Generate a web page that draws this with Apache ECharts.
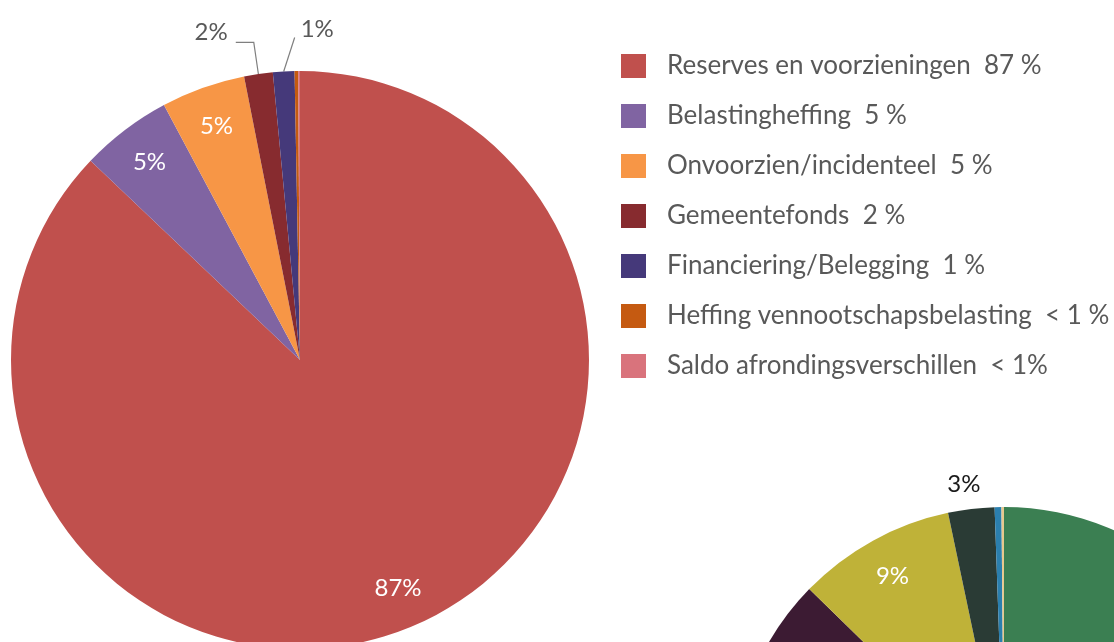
<!DOCTYPE html>
<html>
<head>
<meta charset="utf-8">
<script src="https://cdn.jsdelivr.net/npm/echarts@6/dist/echarts.min.js"></script>
<style>
  html, body { margin: 0; padding: 0; background: #fff; }
  #chart { width: 1114px; height: 642px; }
</style>
</head>
<body>
<div id="chart"></div>
<script>
// main pie (percent of total)
var mainNames = ['Reserves en voorzieningen', 'Belastingheffing', 'Onvoorzien/incidenteel',
                 'Gemeentefonds', 'Financiering/Belegging', 'Heffing vennootschapsbelasting',
                 'Saldo afrondingsverschillen'];
var mainValues = [87.1, 5.1, 4.7, 1.6, 1.2, 0.2, 0.1];
var mainShares = ['87 %', '5 %', '5 %', '2 %', '1 %', '< 1 %', '< 1%'];
var mainColors = ['#c0504d', '#8064a2', '#f79646', '#872b2f', '#45397a', '#c55a11', '#d9737c'];

// second pie, only its top part is in view
var sideNames = ['Groen', 'Paars', 'Geel', 'Donkergroen', 'Blauw', 'Beige'];
var sideValues = [72.1, 15.2, 9.4, 2.75, 0.4, 0.15];
var sideColors = ['#3b7f52', '#3c1b33', '#bfb238', '#2a3b35', '#2b7fae', '#e8c88e'];

var FONT = 'Lato';
var R1 = 289, R2 = 272;

function pct(p) { return Math.round(p.percent) + '%'; }

function makeData(names, values, colors, labelFn) {
    var out = [];
    for (var i = 0; i < names.length; i++) {
        out.push({
            name: names[i],
            value: values[i],
            itemStyle: { color: colors[i] },
            label: labelFn(values[i]),
            labelLine: { show: labelFn(values[i]).show }
        });
    }
    return out;
}

var chartDom = document.getElementById('chart');
var myChart = echarts.init(chartDom);

var option = {
    animation: false,
    backgroundColor: '#fff',
    legend: {
        orient: 'vertical',
        left: 616,
        top: 48,
        itemWidth: 25,
        itemHeight: 24,
        itemGap: 24,
        icon: 'rect',
        data: mainNames,
        selectedMode: false,
        textStyle: {
            fontFamily: FONT,
            fontSize: 26,
            lineHeight: 24,
            color: '#595959',
            padding: [0, 0, 0, 16]
        },
        formatter: function (name) {
            return name + '  ' + mainShares[mainNames.indexOf(name)];
        }
    },
    series: [
        {
            // slices + outside labels
            type: 'pie',
            center: [300, 360],
            radius: R1,
            startAngle: 90,
            clockwise: true,
            avoidLabelOverlap: false,
            silent: true,
            data: makeData(mainNames, mainValues, mainColors, function (v) {
                return { show: v >= 1 && v < 3 };
            }),
            label: {
                position: 'outside',
                formatter: pct,
                fontFamily: FONT,
                fontSize: 24,
                color: '#595959',
                distanceToLabelLine: 6
            },
            labelLine: {
                length: 32,
                length2: 18,
                lineStyle: { color: '#7f7f7f', width: 1.2 }
            },
            labelLayout: function (params) {
                var pts = params.labelLinePoints;
                if (!pts) return;
                var p0 = pts[0];
                if (mainNames[params.dataIndex] === 'Financiering/Belegging') {
                    // the 1% label sits to the right of its slice in the original
                    var end = [p0[0] + 11, pts[1][1] - 2];
                    return {
                        x: end[0] + 6,
                        y: end[1] - 8,
                        align: 'left',
                        verticalAlign: 'middle',
                        labelLinePoints: [p0, end, end]
                    };
                }
                var last = pts[pts.length - 1];
                return {
                    x: last[0] - 8,
                    y: last[1] - 10,
                    align: 'right',
                    verticalAlign: 'middle',
                    labelLinePoints: pts
                };
            }
        },
        {
            // inside labels, drawn on a ring so they sit near the rim
            type: 'pie',
            center: [300, 360],
            radius: [R1 * 0.7, R1],
            startAngle: 90,
            silent: true,
            data: makeData(mainNames, mainValues, mainColors, function (v) {
                return { show: v >= 3 };
            }).map(function (d) { d.itemStyle = { color: 'rgba(0,0,0,0)' }; return d; }),
            label: {
                position: 'inside',
                formatter: pct,
                fontFamily: FONT,
                fontSize: 24,
                color: '#fff'
            }
        },
        {
            type: 'pie',
            center: [1004, 779],
            radius: R2,
            startAngle: 90,
            avoidLabelOverlap: false,
            silent: true,
            data: makeData(sideNames, sideValues, sideColors, function (v) {
                return { show: v >= 1 && v < 5 };
            }).map(function (d) { d.labelLine = { show: false }; return d; }),
            label: {
                position: 'outside',
                formatter: pct,
                fontFamily: FONT,
                fontSize: 24,
                color: '#1a1a1a'
            },
            labelLine: { show: false, length: 14, length2: 0 },
            labelLayout: { dx: 16, dy: -11 }
        },
        {
            type: 'pie',
            center: [1004, 779],
            radius: [R2 * 0.68, R2],
            startAngle: 90,
            silent: true,
            data: makeData(sideNames, sideValues, sideColors, function (v) {
                return { show: v >= 5 && v < 12 };
            }).map(function (d) { d.itemStyle = { color: 'rgba(0,0,0,0)' }; return d; }),
            label: {
                position: 'inside',
                formatter: pct,
                fontFamily: FONT,
                fontSize: 24,
                color: '#fff'
            }
        }
    ]
};

option && myChart.setOption(option);
</script>
</body>
</html>
